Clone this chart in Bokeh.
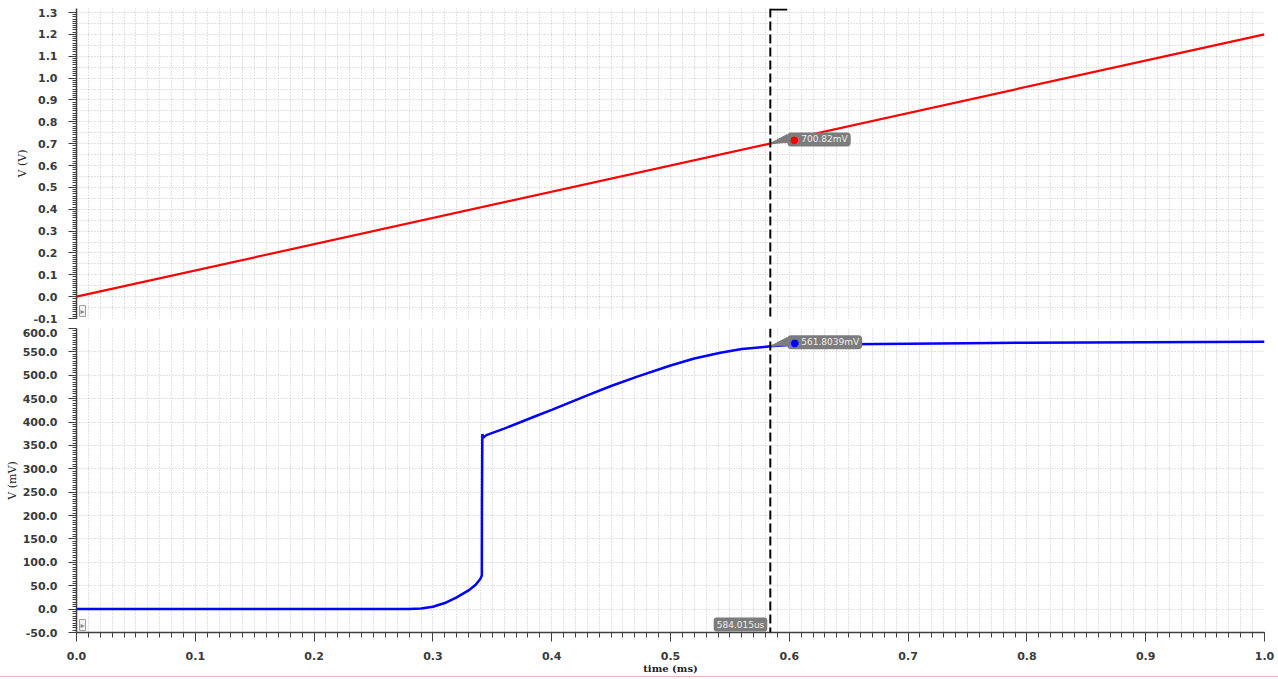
import numpy as np
from bokeh.plotting import figure
from bokeh.layouts import column
from bokeh.models import Range1d, Span, Label, FixedTicker, PrintfTickFormatter, Spacer
from bokeh.embed import file_html
from bokeh.resources import INLINE

# ---------------- data ----------------
ramp_t = [0.0, 1.0]          # ms
ramp_v = [0.0, 1.2]          # V

out_t = [0.0, 0.27, 0.28, 0.29, 0.30, 0.31, 0.32, 0.33, 0.336, 0.340, 0.3412, 0.3413, 0.3416,
         0.3425, 0.345, 0.36, 0.3878, 0.40, 0.43, 0.45, 0.472, 0.50, 0.52, 0.542, 0.56,
         0.584015, 0.60, 0.65, 0.70, 0.75, 0.80, 0.90, 1.00]
out_mv = [0.0, 0.0, 0.5, 1.5, 5.0, 13.0, 25.0, 40.0, 52.0, 65.0, 72.0, 226.0, 374.0,
          367.0, 372.0, 386.0, 414.0, 426.0, 457.0, 477.0, 497.0, 521.0, 536.0, 548.0, 556.0,
          561.8, 564.5, 566.5, 567.5, 568.5, 569.5, 570.5, 571.5]

cursor_t = 0.584015
top_marker_text = "700.82mV"
bot_marker_text = "561.8039mV"
cursor_text = "584.015us"

x_ticks = [0.0, 0.1, 0.2, 0.3, 0.4, 0.5, 0.6, 0.7, 0.8, 0.9, 1.0]
top_ticks = [-0.1, 0.0, 0.1, 0.2, 0.3, 0.4, 0.5, 0.6, 0.7, 0.8, 0.9, 1.0, 1.1, 1.2, 1.3]
bot_ticks = [-50, 0, 50, 100, 150, 200, 250, 300, 350, 400, 450, 500, 550, 600]

# ---------------- geometry ----------------
W = 1278
LEFT = 76
RIGHT = 14
frame_w = W - LEFT - RIGHT
TOP_BORDER = 8
top_frame_h = 310
bot_frame_h = 307
px_top = 306.0 / 1.4                      # pixels per volt in the top panel
top_range = (-0.1, -0.1 + top_frame_h / px_top)
bot_range = (-50.0, 600.0)

px_ms = frame_w / 1.0
px_bot = bot_frame_h / (bot_range[1] - bot_range[0])

GRID = "#c4c4c4"
AXC = "#404040"
LBL = "#3a3a3a"


def style_y(p, ticks, minor, fmt):
    ax = p.yaxis[0]
    ax.ticker = FixedTicker(ticks=ticks, minor_ticks=minor)
    ax.formatter = PrintfTickFormatter(format=fmt)
    ax.axis_line_color = AXC
    ax.axis_line_width = 1.5
    ax.major_tick_line_color = AXC
    ax.minor_tick_line_color = AXC
    ax.major_tick_out = 8
    ax.major_tick_in = 0
    ax.minor_tick_out = 4
    ax.minor_tick_in = 0
    ax.major_label_standoff = 11
    ax.major_label_text_font = "DejaVu Sans"
    ax.major_label_text_font_style = "bold"
    ax.major_label_text_font_size = "11px"
    ax.major_label_text_color = LBL
    ax.axis_label_text_font = "DejaVu Serif"
    ax.axis_label_text_font_style = "normal"
    ax.axis_label_text_font_size = "11px"
    ax.axis_label_text_color = "#222222"
    ax.axis_label_standoff = 1


def style_grid(p, yg_ticks):
    p.xgrid.ticker = FixedTicker(ticks=list(np.round(np.arange(0.0, 1.0001, 0.01), 3)))
    p.ygrid.ticker = FixedTicker(ticks=yg_ticks)
    for g in (p.xgrid[0], p.ygrid[0]):
        g.grid_line_color = GRID
        g.grid_line_dash = "1 2"
        g.grid_line_width = 1


# ---------------- top panel ----------------
top = figure(width=W, height=TOP_BORDER + top_frame_h + 10, x_range=Range1d(0.0, 1.0),
             y_range=Range1d(*top_range), output_backend="svg", toolbar_location=None,
             min_border_left=LEFT, min_border_right=RIGHT, min_border_top=TOP_BORDER,
             min_border_bottom=10, outline_line_color=None, background_fill_color="white")
top.xaxis.visible = False
top.yaxis.axis_label = "V (V)"
style_y(top, top_ticks, list(np.round(np.arange(-0.1, 1.3001, 0.01), 3)), "%.1f")
style_grid(top, list(np.round(np.arange(-0.1, 1.3001, 0.05), 3)))
top.line(ramp_t, ramp_v, line_color="#ff0000", line_width=2.2)

# ---------------- bottom panel ----------------
BOT_BORDER = 41
bot = figure(width=W, height=bot_frame_h + BOT_BORDER, x_range=top.x_range,
             y_range=Range1d(*bot_range), output_backend="svg", toolbar_location=None,
             min_border_left=LEFT, min_border_right=RIGHT, min_border_top=0,
             min_border_bottom=BOT_BORDER, outline_line_color=None, background_fill_color="white")
bot.yaxis.axis_label = "V (mV)"
style_y(bot, bot_ticks, list(np.arange(-50, 601, 5)), "%.1f")
style_grid(bot, bot_ticks)
xa = bot.xaxis[0]
xa.ticker = FixedTicker(ticks=x_ticks, minor_ticks=list(np.round(np.arange(0.0, 1.0001, 0.01), 3)))
xa.formatter = PrintfTickFormatter(format="%.1f")
xa.axis_label = "time (ms)"
xa.axis_line_color = AXC
xa.axis_line_width = 1.5
xa.major_tick_line_color = AXC
xa.minor_tick_line_color = AXC
xa.major_tick_out = 9
xa.major_tick_in = 0
xa.minor_tick_out = 5
xa.minor_tick_in = 0
xa.major_label_standoff = 10
xa.major_label_text_font = "DejaVu Sans"
xa.major_label_text_font_style = "bold"
xa.major_label_text_font_size = "11px"
xa.major_label_text_color = LBL
xa.axis_label_text_font = "DejaVu Serif"
xa.axis_label_text_font_style = "bold"
xa.axis_label_text_font_size = "10px"
xa.axis_label_text_color = "#222222"
xa.axis_label_standoff = 0
bot.line(out_t, out_mv, line_color="#0000ff", line_width=2.5)

# ---------------- cursor ----------------
for p in (top, bot):
    p.add_layout(Span(location=cursor_t, dimension="height", line_color="black",
                      line_dash="9 4", line_width=2))

cap_y = top_range[1] - 1.0 / px_top
top.segment(x0=[cursor_t], x1=[cursor_t + 17 / px_ms], y0=[cap_y], y1=[cap_y],
            line_color="black", line_width=2)

BOX = "#7c7c7c"


def marker(p, v, px_y, text, dot_color):
    # callout wedge from the crossing point to the box
    dx = 17 / px_ms
    p.patch([cursor_t, cursor_t + dx, cursor_t + dx],
            [v, v + 9 / px_y, v + 1 / px_y], fill_color=BOX, line_color=BOX, line_width=1)
    p.add_layout(Label(x=cursor_t, y=v, x_offset=17, y_offset=4, text=text,
                       text_font="DejaVu Sans", text_font_size="9px",
                       text_color="#eeeeee", text_align="left", text_baseline="middle",
                       background_fill_color=BOX, background_fill_alpha=1.0,
                       border_radius=4, padding=dict(left=14, right=3, top=2, bottom=2)))
    p.add_layout(Label(x=cursor_t, y=v, x_offset=20, y_offset=4, text="\u25CF",
                       text_font="DejaVu Sans", text_font_size="10px",
                       text_color=dot_color, text_align="left", text_baseline="middle"))


v_top = float(np.interp(cursor_t, ramp_t, ramp_v))
v_bot = float(np.interp(cursor_t, out_t, out_mv))
marker(top, v_top, px_top, top_marker_text, "#ff0000")
marker(bot, v_bot, px_bot, bot_marker_text, "#0000ff")

bot.add_layout(Label(x=cursor_t, y=bot_range[0], x_offset=-3, y_offset=8, text=cursor_text,
                     text_font="DejaVu Sans", text_font_size="9px",
                     text_color="#eeeeee", text_align="right", text_baseline="middle",
                     background_fill_color=BOX, background_fill_alpha=1.0,
                     border_radius=3, padding=dict(left=3, right=3, top=2, bottom=2)))

# small panel icons
for p, yb in ((top, top_range[0]), (bot, bot_range[0])):
    p.add_layout(Label(x=0.0, y=yb, x_offset=3, y_offset=2, text="\u25B8",
                       text_font="DejaVu Sans", text_font_size="8px",
                       text_color="#8a8a8a", text_align="left", text_baseline="bottom",
                       background_fill_color="#f2f2f2", background_fill_alpha=1.0,
                       border_line_color="#a0a0a0", padding=1))

rule = Spacer(width=W, height=1, styles={"background-color": "#dcb8b8"})

layout = column(top, bot, rule, spacing=0)
open("out.html", "w").write(file_html(layout, INLINE))
